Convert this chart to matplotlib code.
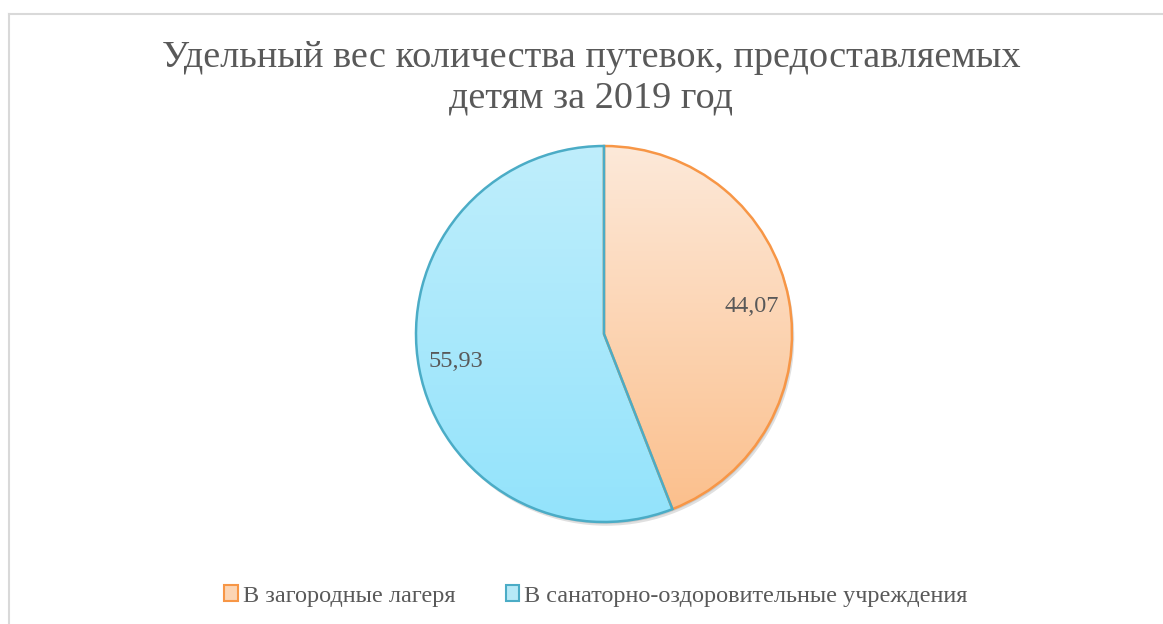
import numpy as np
import matplotlib.pyplot as plt
from matplotlib.patches import Patch, Circle
from matplotlib.lines import Line2D
from matplotlib.colors import to_rgb

# данные
categories = ['В загородные лагеря', 'В санаторно-оздоровительные учреждения']
values = [44.07, 55.93]
title = 'Удельный вес количества путевок, предоставляемых\nдетям за 2019 год'

edge_colors = ['#F79646', '#4BACC6']
grad_top = ['#FDE9D9', '#BFEEFC']
grad_bottom = ['#FBBE8A', '#93E3FB']
legend_face = ['#FCD5B4', '#B7E9F7']

plt.rcParams['font.family'] = ['Liberation Serif', 'DejaVu Serif']
text_color = '#595959'

fig = plt.figure(figsize=(11.63, 6.24), dpi=100)
W, H = 1163, 624

# рамка диаграммы
fig.add_artist(Line2D([9 / W, 9 / W], [0, 1 - 13.5 / H], color='#D9D9D9', lw=1.5))
fig.add_artist(Line2D([9 / W, 1], [1 - 13.5 / H, 1 - 13.5 / H], color='#D9D9D9', lw=1.5))

fig.text(591 / W, 1 - 78 / H, title, ha='center', va='center', fontsize=27.5,
         color=text_color, linespacing=1.25)

cx, cy, r = 604, 334, 188
half = 200
ax = fig.add_axes([(cx - half) / W, (H - cy - half) / H, 2 * half / W, 2 * half / H])
lim = half / r
ax.set_aspect('equal')
ax.axis('off')

# тень
ax.add_patch(Circle((0.012, -0.02), 1.0, color='#000000', alpha=0.12, lw=0, zorder=0))
ax.add_patch(Circle((0.006, -0.01), 1.0, color='#000000', alpha=0.10, lw=0, zorder=0))

wedges, texts, autotexts = ax.pie(
    values, startangle=90, counterclock=False, radius=1.0,
    colors=['white', 'white'],
    wedgeprops=dict(linewidth=1.8, zorder=3),
    autopct=lambda p: f'{p:.2f}'.replace('.', ','), pctdistance=0.8,
    textprops=dict(fontsize=17.5, color=text_color))
ax.set_xlim(-lim, lim)
ax.set_ylim(-lim, lim)

for i, w in enumerate(wedges):
    w.set_edgecolor(edge_colors[i])
    top = np.array(to_rgb(grad_top[i]))
    bot = np.array(to_rgb(grad_bottom[i]))
    t = np.linspace(0, 1, 256)[:, None, None]
    img = top[None, None, :] * (1 - t) + bot[None, None, :] * t
    img = np.repeat(img, 2, axis=1)
    im = ax.imshow(img, extent=[-1, 1, -1, 1], origin='upper', aspect='auto', zorder=2)
    im.set_clip_path(w)
    w.set_facecolor('none')

for at in autotexts:
    at.set_zorder(5)

handles = [Patch(facecolor=legend_face[i], edgecolor=edge_colors[i], lw=1.5)
           for i in range(len(categories))]
fig.legend(handles, categories, loc='center', bbox_to_anchor=(596 / W, 1 - 596 / H),
           ncol=2, frameon=False, fontsize=17.5, handlelength=0.55, handleheight=0.6,
           handletextpad=0.2, columnspacing=2.1, labelcolor=text_color)

fig.savefig('out.png', dpi=100)
